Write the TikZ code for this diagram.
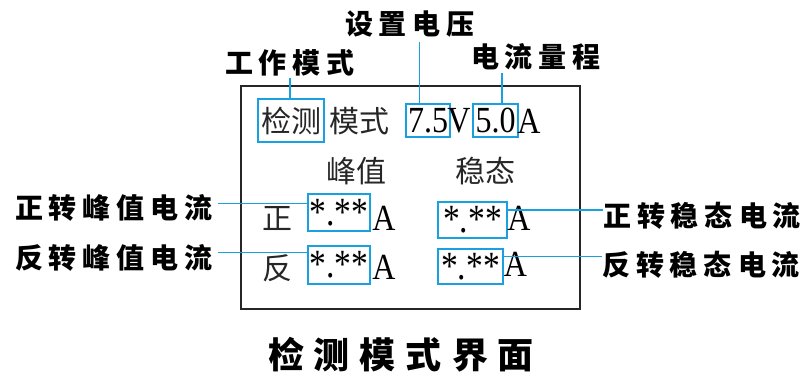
\documentclass[tikz,border=0pt]{standalone}
\usepackage{fontspec}
\usepackage{graphicx}
\setmainfont{Liberation Serif}
\newfontfamily\cjk{Noto Sans CJK SC}
\definecolor{cb}{RGB}{25,160,225}
\newcommand\lgp{\hspace{6pt}}
\newcommand\tgp{\hspace{10pt}}
\newcommand\vs[1]{\scalebox{1}[1.15]{#1}}
\newcommand\stars{\scalebox{1.05}[1.25]{*.**}}
\begin{document}
\begin{tikzpicture}[x=1pt,y=-1pt,
  frame/.style={draw=black!85,line width=2pt},
  bbox/.style={draw=cb,line width=1.5pt,inner sep=0pt},
  lnk/.style={draw=cb,line width=1.5pt},
  lab/.style={font=\cjk\bfseries\fontsize{28}{28}\selectfont,inner sep=0pt},
  ttl/.style={font=\cjk\bfseries\fontsize{36}{36}\selectfont,inner sep=0pt},
  cn/.style={font=\cjk\fontsize{30}{30}\selectfont,inner sep=0pt,text=black!85},
  lat/.style={font=\fontsize{32}{32}\selectfont,inner sep=0pt}]
\useasboundingbox (0,0) rectangle (805,376);
\node[frame,minimum width=339pt,minimum height=223pt] (scr) at (410.5,197.5) {};
% labels
\node[lab] (l1) at (290,63) {工\lgp 作\lgp 模\lgp 式};
\node[lab] (l2) at (410,24) {设\lgp 置\lgp 电\lgp 压};
\node[lab] (l3) at (536,57) {电\lgp 流\lgp 量\lgp 程};
\node[lab] (l4) at (114,208) {正\lgp 转\lgp 峰\lgp 值\lgp 电\lgp 流};
\node[lab] (l5) at (114,258) {反\lgp 转\lgp 峰\lgp 值\lgp 电\lgp 流};
\node[lab] (l6) at (702,215.5) {正\lgp 转\lgp 稳\lgp 态\lgp 电\lgp 流};
\node[lab] (l7) at (701,265) {反\lgp 转\lgp 稳\lgp 态\lgp 电\lgp 流};
\node[ttl] (t) at (401,355) {检\tgp 测\tgp 模\tgp 式\tgp 界\tgp 面};
% screen content
\node[bbox,cn,minimum width=66pt,minimum height=43pt] (bA) at (291,120.5) {检测};
\node[cn] (m) at (359,121) {模式};
\node[bbox,lat,minimum width=44pt,minimum height=33pt] (bV) at (428,120.5) {\vs{7.5}};
\node[lat] (v) at (459,121) {\vs{V}};
\node[bbox,lat,minimum width=45pt,minimum height=33pt] (bI) at (495.5,120.5) {\vs{5.0}};
\node[lat] (a0) at (529,121) {\vs{A}};
\node[cn] (pk) at (356,171) {峰值};
\node[cn] (st) at (485,171) {稳态};
\node[cn] (zh) at (277,219) {正};
\node[cn] (fa) at (277,268) {反};
\node[bbox,lat,minimum width=62pt,minimum height=37pt] (p1) at (339,212.5) {\stars};
\node[lat] (a1) at (384,218) {\vs{A}};
\node[bbox,lat,minimum width=62pt,minimum height=38pt] (p2) at (339,265) {\stars};
\node[lat] (a2) at (384,267) {\vs{A}};
\node[bbox,lat,minimum width=69pt,minimum height=36pt] (s1) at (472.5,220) {\stars};
\node[lat] (a3) at (519,218) {\vs{A}};
\node[bbox,lat,minimum width=65pt,minimum height=35pt] (s2) at (470.5,266.5) {\stars};
\node[lat] (a4) at (515.5,264.5) {\vs{A}};
% connectors
\draw[lnk] ([yshift=-1pt]l1.south) -- (l1.south |- bA.north);
\coordinate (vtop) at ([xshift=14pt]bV.north west);
\draw[lnk] (vtop) -- ++(0,-61);
\coordinate (itop) at ([xshift=6.5pt]bI.north);
\draw[lnk] (itop) -- ++(0,-30);
\coordinate (c4) at ([yshift=4.5pt,xshift=5pt]l4.east);
\draw[lnk] (c4) -- (c4 -| p1.west);
\coordinate (c5) at ([yshift=5.5pt,xshift=5pt]l5.east);
\draw[lnk] (c5) -- (c5 -| p2.west);
\coordinate (c6) at ([yshift=5.5pt]l6.west);
\draw[lnk] (s1.east |- c6) -- (c6);
\coordinate (c7) at ([yshift=8.5pt]l7.west);
\draw[lnk] (s2.east |- c7) -- (c7);
\end{tikzpicture}
\end{document}
